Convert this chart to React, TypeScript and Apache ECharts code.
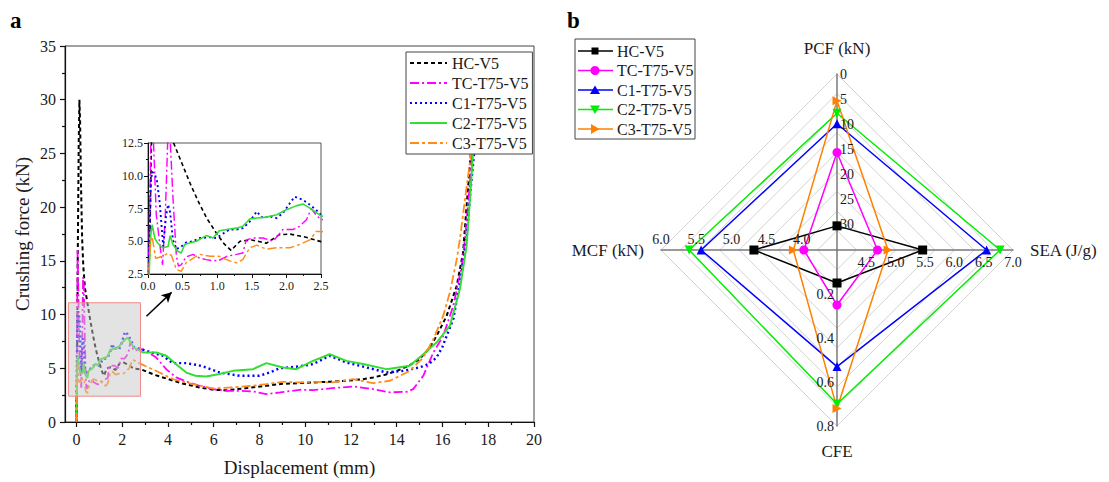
import React, { useEffect, useRef } from 'react';
import * as echarts from 'echarts';

// ---------- Panel a: crushing force vs displacement ----------
const NAMES = ['HC-V5', 'TC-T75-V5', 'C1-T75-V5', 'C2-T75-V5', 'C3-T75-V5'];

const HC_V5 = [
  [0, 0], [0.03, 6], [0.06, 16], [0.1, 26], [0.13, 30], [0.16, 28], [0.2, 22], [0.25, 17], [0.3, 14.5], [0.37, 12.5],
  [0.49, 10.95], [0.61, 9.4], [0.73, 8.0], [0.85, 6.75], [0.99, 5.6], [1.1, 4.8], [1.2, 4.3], [1.33, 5.0], [1.5, 5.1],
  [1.71, 4.85], [1.9, 5.5], [2.05, 5.55], [2.25, 5.35], [2.5, 4.97], [2.83, 4.9], [3.4, 4.4], [3.92, 4.05], [4.6, 3.6],
  [5.38, 3.22], [6.0, 3.0], [6.55, 2.95], [7.4, 3.15], [8.3, 3.37], [9.0, 3.55], [9.76, 3.62], [10.34, 3.68], [11.1, 3.75],
  [11.8, 3.84], [12.5, 3.98], [12.97, 4.15], [13.5, 4.4], [14.0, 4.76], [14.5, 5.2], [15.0, 5.85], [15.4, 6.8], [15.74, 8.0],
  [16.18, 9.87], [16.62, 12.66], [16.9, 15.75], [17.05, 20], [17.2, 24], [17.35, 28],
];
const TC_T75_V5 = [
  [0, 0], [0.02, 6], [0.05, 16], [0.08, 12.5], [0.12, 7], [0.17, 4.8], [0.21, 3.2], [0.25, 7], [0.29, 13.5], [0.32, 12.8],
  [0.36, 8.4], [0.41, 3.9], [0.44, 3.1], [0.48, 3.2], [0.55, 3.8], [0.65, 4.0], [0.75, 3.7], [0.84, 3.6], [0.94, 3.5],
  [1.03, 3.55], [1.14, 3.85], [1.28, 4.0], [1.37, 4.1], [1.42, 5.1], [1.52, 5.25], [1.66, 5.25], [1.81, 5.0], [1.95, 5.9],
  [2.1, 5.9], [2.19, 6.14], [2.29, 6.64], [2.36, 7.5], [2.43, 7.0], [2.5, 6.65], [2.9, 6.78], [3.49, 6.0], [3.93, 4.9],
  [4.36, 4.15], [4.9, 3.7], [5.38, 3.37], [6.0, 3.05], [6.55, 2.91], [7.2, 2.9], [7.72, 2.85], [8.3, 2.6], [8.9, 2.75],
  [9.76, 3.0], [10.34, 2.97], [11.2, 3.15], [12.09, 3.31], [12.97, 3.06], [13.7, 2.76], [14.43, 2.81], [14.72, 3.06],
  [15.16, 4.3], [15.6, 6.47], [16.03, 8.0], [16.47, 10.8], [16.84, 14.5], [16.98, 17], [17.15, 21], [17.3, 25], [17.4, 28],
];
const C1_T75_V5 = [
  [0, 0], [0.02, 5], [0.04, 9.5], [0.06, 10.3], [0.1, 10.1], [0.13, 9.6], [0.17, 7.9], [0.2, 5.9], [0.22, 4.6], [0.26, 6.9],
  [0.29, 7.8], [0.32, 7.2], [0.36, 5.1], [0.41, 4.4], [0.48, 4.6], [0.55, 4.9], [0.65, 5.0], [0.75, 5.25], [0.9, 5.3],
  [0.99, 5.25], [1.09, 5.6], [1.18, 5.9], [1.28, 5.9], [1.37, 6.0], [1.47, 6.5], [1.57, 7.27], [1.66, 6.77], [1.76, 6.9],
  [1.86, 6.77], [1.95, 7.15], [2.05, 7.9], [2.12, 8.4], [2.24, 8.15], [2.34, 7.78], [2.43, 7.4], [2.5, 7.0], [3.05, 6.62],
  [3.78, 6.16], [4.21, 5.48], [4.8, 5.48], [5.3, 5.3], [5.67, 5.08], [6.26, 4.61], [7.13, 4.3], [8.0, 4.3], [8.45, 4.61],
  [8.88, 5.0], [9.76, 5.18], [10.34, 5.39], [11.07, 6.16], [11.8, 5.54], [12.68, 5.08], [13.55, 4.61], [14.28, 4.76],
  [15.0, 5.08], [15.4, 5.4], [15.74, 6.0], [16.0, 7.0], [16.18, 8.0], [16.47, 9.56], [16.84, 13.9], [17.05, 17], [17.2, 21],
  [17.38, 25], [17.5, 28],
];
const C2_T75_V5 = [
  [0, 0], [0.02, 3], [0.04, 5.5], [0.06, 6.26], [0.1, 5.2], [0.14, 4.87], [0.21, 4.5], [0.29, 4.6], [0.32, 5.43], [0.36, 4.75],
  [0.43, 4.24], [0.48, 4.1], [0.53, 4.75], [0.6, 4.87], [0.7, 5.0], [0.84, 5.43], [0.94, 5.25], [1.03, 5.8], [1.18, 5.93],
  [1.28, 6.0], [1.37, 6.14], [1.47, 6.7], [1.57, 6.77], [1.71, 6.84], [1.86, 7.02], [2.0, 7.4], [2.14, 7.7], [2.24, 7.85],
  [2.34, 7.53], [2.5, 6.94], [2.9, 6.47], [3.49, 6.47], [3.93, 6.16], [4.4, 5.3], [4.8, 4.6], [5.2, 4.3], [5.67, 4.24],
  [6.2, 4.45], [6.84, 4.76], [7.72, 4.92], [8.3, 5.48], [9.03, 5.08], [9.61, 4.92], [10.34, 5.69], [11.07, 6.31],
  [11.8, 5.69], [12.53, 5.39], [13.55, 4.92], [14.57, 5.23], [15.16, 6.31], [15.74, 7.4], [16.32, 8.94], [16.76, 12.35],
  [17.05, 16.37], [17.2, 20.7], [17.33, 24.9], [17.45, 28],
];
const C3_T75_V5 = [
  [0, 0], [0.02, 3.5], [0.04, 5.1], [0.06, 5.35], [0.11, 3.7], [0.21, 3.85], [0.29, 4.1], [0.34, 3.9], [0.41, 2.85],
  [0.48, 2.7], [0.55, 3.35], [0.65, 3.7], [0.75, 4.0], [0.9, 3.85], [1.03, 3.85], [1.18, 3.5], [1.28, 3.35], [1.37, 3.6],
  [1.47, 4.5], [1.57, 4.7], [1.71, 4.4], [1.86, 4.5], [2.05, 4.5], [2.19, 4.75], [2.34, 5.1], [2.43, 5.75], [2.5, 5.75],
  [2.83, 5.39], [3.63, 4.61], [4.21, 3.99], [5.09, 3.53], [5.96, 3.13], [6.84, 3.22], [7.72, 3.37], [8.3, 3.53],
  [9.03, 3.74], [9.76, 3.68], [10.34, 3.74], [11.2, 3.68], [12.09, 3.99], [12.97, 3.62], [13.7, 3.84], [14.14, 4.3],
  [14.57, 4.76], [15.16, 6.0], [15.6, 7.7], [16.03, 9.87], [16.32, 12.04], [16.62, 15.1], [16.76, 17], [17.0, 21],
  [17.25, 25], [17.4, 28],
];
const CURVES = [HC_V5, TC_T75_V5, C1_T75_V5, C2_T75_V5, C3_T75_V5];

const X_MAJOR = [0, 2, 4, 6, 8, 10, 12, 14, 16, 18, 20];
const X_MINOR = [1, 3, 5, 7, 9, 11, 13, 15, 17, 19];
const ZOOM_X = [-0.35, 2.8];
const ZOOM_Y = [2.4, 11.1];
const ARROW_FROM = [3.06, 9.84];
const ARROW_TO = [4.16, 12.07];

// ---------- Panel b: radar ----------
const RADAR_PCF = [30.2, 15.6, 9.9, 7.8, 5.3];
const RADAR_SEA = [5.46, 4.69, 6.55, 6.78, 4.87];
const RADAR_MCF = [4.68, 3.97, 5.43, 5.6, 4.12];
const RADAR_CFE = [0.15, 0.25, 0.53, 0.7, 0.72];
const PCF_TICKS = [0, 5, 10, 15, 20, 25, 30];
const SEA_TICKS = [4.5, 5.0, 5.5, 6.0, 6.5, 7.0];
const MCF_TICKS = [4.0, 4.5, 5.0, 5.5, 6.0];
const CFE_TICKS = [0.2, 0.4, 0.6, 0.8];
// [value at centre, value at outer ring]
const PCF_RANGE = [35, 0];
const SEA_RANGE = [4, 7];
const MCF_RANGE = [3.5, 6];
const CFE_RANGE = [0, 0.8];

const FONT = "'Liberation Serif', 'Times New Roman', serif";
const TXT = '#1a1a1a';
const LINE_COLORS = ['#000000', '#ff00ff', '#0000ff', '#33dd33', '#ff8c1a'];
const LINE_TYPES: any[] = [[4, 3], [9, 3, 2, 3], [2, 3], 'solid', [9, 3, 3, 3]];
const LINE_WIDTHS = [2, 1.8, 2.4, 2, 1.8];
const RADAR_COLORS = ['#000000', '#ff00ff', '#0000ff', '#00ee00', '#ff8000'];
const RADAR_SYMBOLS = ['rect', 'circle', 'triangle', 'path://M0,0 L10,0 L5,9 Z', 'path://M0,0 L9,5 L0,10 Z'];

const RC = [837, 250];
const RR = 176;
const norm = (v: number, r: number[]) => (v - r[0]) / (r[1] - r[0]);

function buildOption() {
  const mainSeries: any[] = CURVES.map((d, i) => ({
    type: 'line', name: NAMES[i], xAxisIndex: 0, yAxisIndex: 0, data: d,
    symbol: 'none', showSymbol: false, silent: true, z: 3 + i,
    lineStyle: { color: LINE_COLORS[i], type: LINE_TYPES[i], width: LINE_WIDTHS[i] },
    itemStyle: { color: LINE_COLORS[i] },
  }));
  mainSeries[0].markArea = {
    silent: true, z: 20,
    itemStyle: { color: 'rgba(200,200,200,0.5)', borderColor: '#f08a8a', borderWidth: 1 },
    data: [[{ coord: [ZOOM_X[0], ZOOM_Y[1]] }, { coord: [ZOOM_X[1], ZOOM_Y[0]] }]],
  };
  mainSeries[0].markLine = {
    silent: true, z: 20, symbol: ['none', 'arrow'], symbolSize: [8, 10],
    label: { show: false },
    lineStyle: { color: '#000', width: 1.5, type: 'solid' },
    data: [[{ coord: ARROW_FROM }, { coord: ARROW_TO }]],
  };
  const insetSeries = CURVES.map((d, i) => ({
    type: 'line', name: NAMES[i], xAxisIndex: 2, yAxisIndex: 1, data: d,
    symbol: 'none', showSymbol: false, silent: true, z: 3 + i,
    lineStyle: { color: LINE_COLORS[i], type: LINE_TYPES[i], width: LINE_WIDTHS[i] * 0.8 },
    itemStyle: { color: LINE_COLORS[i] },
  }));
  const radarSeries = NAMES.map((n, i) => ({
    type: 'radar', radarIndex: 0, name: n, silent: true, z: 5,
    symbol: RADAR_SYMBOLS[i], symbolSize: 9,
    lineStyle: { color: RADAR_COLORS[i], width: 1.5 },
    itemStyle: { color: RADAR_COLORS[i], borderWidth: 0 },
    data: [{
      name: n,
      value: [norm(RADAR_PCF[i], PCF_RANGE), norm(RADAR_MCF[i], MCF_RANGE), norm(RADAR_CFE[i], CFE_RANGE), norm(RADAR_SEA[i], SEA_RANGE)],
    }],
  }));

  const lbl = (text: string, x: number, y: number, align: string, va: string) => ({
    type: 'text', x, y, silent: true, z: 50,
    style: { text, fill: TXT, fontSize: 14, fontFamily: FONT, align, verticalAlign: va },
  });
  const radarLabels: any[] = [];
  PCF_TICKS.forEach(v => radarLabels.push(lbl(String(v), RC[0] + 3, RC[1] - norm(v, PCF_RANGE) * RR, 'left', 'middle')));
  SEA_TICKS.forEach(v => radarLabels.push(lbl(v.toFixed(1), RC[0] + norm(v, SEA_RANGE) * RR, RC[1] + 5, 'center', 'top')));
  MCF_TICKS.forEach(v => radarLabels.push(lbl(v.toFixed(1), RC[0] - norm(v, MCF_RANGE) * RR, RC[1] - 4, 'center', 'bottom')));
  CFE_TICKS.forEach(v => radarLabels.push(lbl(v.toFixed(1), RC[0] - 3, RC[1] + norm(v, CFE_RANGE) * RR, 'right', 'middle')));

  // right-hand legend
  const LX = 575, LY = 39;
  const legendEls: any[] = [{
    type: 'rect', shape: { x: LX, y: LY, width: 120, height: 100 },
    style: { fill: '#fff', stroke: '#444', lineWidth: 1 }, z: 40, silent: true,
  }];
  NAMES.forEach((n, i) => {
    const cy = LY + 12 + i * 19.5;
    const cx = LX + 20;
    const c = RADAR_COLORS[i];
    legendEls.push({ type: 'line', shape: { x1: LX + 3, y1: cy, x2: LX + 38, y2: cy }, style: { stroke: c, lineWidth: 1.5 }, z: 41, silent: true });
    let m: any;
    if (i === 0) m = { type: 'rect', shape: { x: cx - 3.5, y: cy - 3.5, width: 7, height: 7 } };
    else if (i === 1) m = { type: 'circle', shape: { cx, cy, r: 4.5 } };
    else if (i === 2) m = { type: 'polygon', shape: { points: [[cx, cy - 4.5], [cx + 5, cy + 4], [cx - 5, cy + 4]] } };
    else if (i === 3) m = { type: 'polygon', shape: { points: [[cx - 5, cy - 4], [cx + 5, cy - 4], [cx, cy + 4.5]] } };
    else m = { type: 'polygon', shape: { points: [[cx - 4, cy - 5], [cx + 4.5, cy], [cx - 4, cy + 5]] } };
    legendEls.push({ ...m, style: { fill: c }, z: 42, silent: true });
    legendEls.push({
      type: 'text', x: LX + 42, y: cy, z: 42, silent: true,
      style: { text: n, fill: TXT, fontSize: 16, fontFamily: FONT, align: 'left', verticalAlign: 'middle' },
    });
  });

  const axisLineStyle = { color: '#111', width: 1.2 };
  return {
    animation: false,
    backgroundColor: '#ffffff',
    textStyle: { fontFamily: FONT, color: TXT },
    grid: [
      { left: 65, top: 46, width: 469, height: 377, show: true, borderColor: '#444', borderWidth: 1, backgroundColor: 'transparent' },
      { left: 148, top: 143, width: 173, height: 131, show: true, borderColor: '#555', borderWidth: 1, backgroundColor: 'transparent' },
    ],
    xAxis: [
      {
        gridIndex: 0, type: 'value', min: -0.5, max: 20, position: 'bottom',
        axisLine: { show: true, onZero: false, lineStyle: axisLineStyle },
        axisTick: { show: true, length: 5, customValues: X_MAJOR, lineStyle: axisLineStyle },
        axisLabel: { customValues: X_MAJOR, fontSize: 16, color: TXT, margin: 9, fontFamily: FONT },
        splitLine: { show: false },
        name: 'Displacement (mm)', nameLocation: 'middle', nameGap: 36,
        nameTextStyle: { fontSize: 19, color: TXT, fontFamily: FONT },
      },
      {
        gridIndex: 0, type: 'value', min: -0.5, max: 20, position: 'bottom',
        axisLine: { show: false, onZero: false },
        axisTick: { show: true, length: 3, customValues: X_MINOR, lineStyle: axisLineStyle },
        axisLabel: { show: false, customValues: X_MINOR },
        splitLine: { show: false },
      },
      {
        gridIndex: 1, type: 'value', min: 0, max: 2.5, interval: 0.5, position: 'bottom',
        axisLine: { show: true, onZero: false, lineStyle: { color: '#111', width: 1 } },
        axisTick: { show: true, length: 4, lineStyle: { color: '#111' } },
        minorTick: { show: true, splitNumber: 2, length: 2, lineStyle: { color: '#111' } },
        axisLabel: { fontSize: 12, color: TXT, margin: 6, fontFamily: FONT, formatter: (v: number) => v.toFixed(1) },
        splitLine: { show: false },
      },
    ],
    yAxis: [
      {
        gridIndex: 0, type: 'value', min: 0, max: 35, interval: 5,
        axisLine: { show: true, onZero: false, lineStyle: axisLineStyle },
        axisTick: { show: true, length: 5, lineStyle: axisLineStyle },
        minorTick: { show: true, splitNumber: 2, length: 3, lineStyle: axisLineStyle },
        axisLabel: { fontSize: 16, color: TXT, margin: 9, fontFamily: FONT },
        splitLine: { show: false },
        name: 'Crushing force (kN)', nameLocation: 'middle', nameGap: 33,
        nameTextStyle: { fontSize: 19, color: TXT, fontFamily: FONT },
      },
      {
        gridIndex: 1, type: 'value', min: 2.5, max: 12.5, interval: 2.5,
        axisLine: { show: true, onZero: false, lineStyle: { color: '#111', width: 1 } },
        axisTick: { show: true, length: 4, lineStyle: { color: '#111' } },
        minorTick: { show: true, splitNumber: 2, length: 2, lineStyle: { color: '#111' } },
        axisLabel: { fontSize: 12, color: TXT, margin: 5, fontFamily: FONT, formatter: (v: number) => v.toFixed(1) },
        splitLine: { show: false },
      },
    ],
    legend: {
      data: NAMES, orient: 'vertical', left: 406, top: 52,
      backgroundColor: '#fff', borderColor: '#444', borderWidth: 1,
      padding: [3, 4, 3, 3], itemGap: 4, itemWidth: 37, itemHeight: 14, z: 30,
      itemStyle: { opacity: 0 },
      textStyle: { fontSize: 16, color: TXT, fontFamily: FONT },
      selectedMode: false,
    },
    radar: {
      center: RC, radius: RR, shape: 'polygon', startAngle: 90, splitNumber: 9,
      indicator: [
        { name: 'PCF (kN)', min: 0, max: 1 },
        { name: 'MCF (kN)', min: 0, max: 1 },
        { name: 'CFE', min: 0, max: 1 },
        { name: 'SEA (J/g)', min: 0, max: 1 },
      ],
      nameGap: 17,
      axisName: { color: TXT, fontSize: 17, fontFamily: FONT },
      axisLine: { lineStyle: { color: '#7a7a7a', width: 1.5 } },
      splitLine: { lineStyle: { color: '#d2d2d2', width: 1 } },
      splitArea: { show: false },
      axisLabel: { show: false },
      axisTick: { show: false },
    },
    series: [...mainSeries, ...insetSeries, ...radarSeries],
    graphic: [
      { type: 'text', x: 10, y: 9, silent: true, style: { text: 'a', fontSize: 23, fontWeight: 'bold', fontFamily: FONT, fill: '#000' } },
      { type: 'text', x: 567, y: 9, silent: true, style: { text: 'b', fontSize: 23, fontWeight: 'bold', fontFamily: FONT, fill: '#000' } },
      ...radarLabels,
      ...legendEls,
    ],
  };
}

export default function App() {
  const ref = useRef<HTMLDivElement>(null);
  useEffect(() => {
    if (!ref.current) return;
    const chart = echarts.init(ref.current, null, { renderer: 'svg' });
    chart.setOption(buildOption() as any);
    return () => chart.dispose();
  }, []);
  return (
    <div
      ref={ref}
      style={{ position: 'fixed', left: 0, top: 0, width: 1109, height: 482, background: '#fff' }}
    />
  );
}
